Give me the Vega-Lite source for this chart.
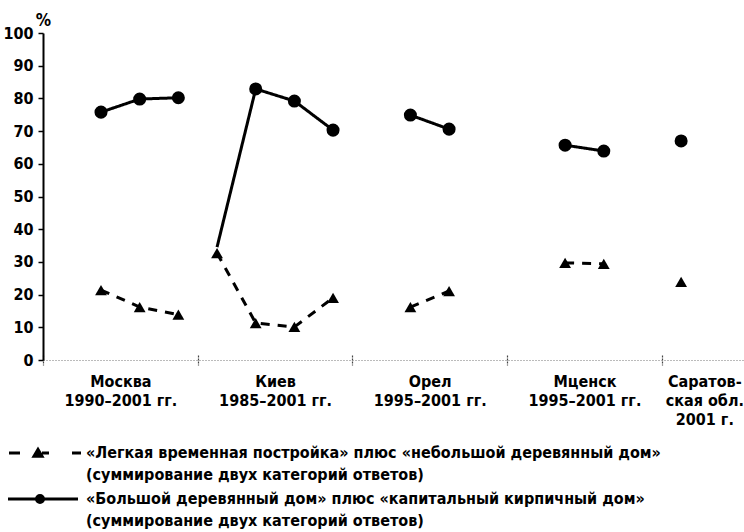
{
  "$schema": "https://vega.github.io/schema/vega-lite/v6.json",
  "autosize": "none",
  "width": 700,
  "height": 327,
  "padding": {"left": 43, "top": 33, "right": 1, "bottom": 172},
  "background": "white",
  "config": {
    "font": "DejaVu Sans Condensed",
    "view": {"stroke": null},
    "style": {"guide-label": {"lineHeight": 22}}
  },
  "data": {
    "values": [
      {"city": "Москва", "slot": 0, "series": "big", "value": 75.8},
      {"city": "Москва", "slot": 1, "series": "big", "value": 79.8},
      {"city": "Москва", "slot": 2, "series": "big", "value": 80.2},
      {"city": "Москва", "slot": 0, "series": "small", "value": 21.4},
      {"city": "Москва", "slot": 1, "series": "small", "value": 16.2},
      {"city": "Москва", "slot": 2, "series": "small", "value": 13.9},
      {"city": "Киев", "slot": 3, "series": "big", "value": 34.5},
      {"city": "Киев", "slot": 4, "series": "big", "value": 82.9},
      {"city": "Киев", "slot": 5, "series": "big", "value": 79.2},
      {"city": "Киев", "slot": 6, "series": "big", "value": 70.3},
      {"city": "Киев", "slot": 3, "series": "small", "value": 32.7},
      {"city": "Киев", "slot": 4, "series": "small", "value": 11.3},
      {"city": "Киев", "slot": 5, "series": "small", "value": 10.1},
      {"city": "Киев", "slot": 6, "series": "small", "value": 19.0},
      {"city": "Орел", "slot": 8, "series": "big", "value": 74.9},
      {"city": "Орел", "slot": 9, "series": "big", "value": 70.6},
      {"city": "Орел", "slot": 8, "series": "small", "value": 16.2},
      {"city": "Орел", "slot": 9, "series": "small", "value": 21.1},
      {"city": "Мценск", "slot": 12, "series": "big", "value": 65.7},
      {"city": "Мценск", "slot": 13, "series": "big", "value": 63.9},
      {"city": "Мценск", "slot": 12, "series": "small", "value": 29.7},
      {"city": "Мценск", "slot": 13, "series": "small", "value": 29.4},
      {"city": "Саратовская обл.", "slot": 15, "series": "big", "value": 67.0},
      {"city": "Саратовская обл.", "slot": 15, "series": "small", "value": 23.9}
    ]
  },
  "encoding": {
    "y": {
      "field": "value", "type": "quantitative",
      "scale": {"domain": [0, 100], "nice": false},
      "axis": {
        "values": [0, 10, 20, 30, 40, 50, 60, 70, 80, 90, 100],
        "labelOverlap": false,
        "grid": false,
        "title": "%", "titleAngle": 0, "titleAlign": "center", "titleBaseline": "middle",
        "titleX": 0, "titleY": -13, "titleFontSize": 17, "titleFontWeight": "bold", "titleColor": "black",
        "domainColor": "black", "domainWidth": 2,
        "tickColor": "black", "tickWidth": 1.5, "tickSize": 5,
        "labelPadding": 5, "labelFontSize": 16, "labelFontWeight": "bold", "labelColor": "black"
      }
    }
  },
  "layer": [
    {
      "mark": {"type": "line", "color": "black", "strokeWidth": 3},
      "encoding": {
        "x": {
          "field": "slot", "type": "quantitative",
          "scale": {"domain": [-1.5, 16.6], "nice": false, "zero": false},
          "axis": {
            "orient": "bottom",
            "values": [-1.5, 2.5, 6.5, 10.5, 14.5],
            "labels": false, "domain": false, "grid": false, "title": null,
            "ticks": true, "tickSize": 10, "offset": -5,
            "tickColor": "#444", "tickWidth": 1.2, "tickDash": [2, 1]
          }
        },
        "detail": [{"field": "city"}, {"field": "series"}],
        "strokeDash": {
          "condition": {"test": "datum.series === 'small'", "value": [9, 8]},
          "value": [1, 0]
        }
      }
    },
    {
      "mark": {"type": "point", "filled": true, "color": "black", "opacity": 1},
      "transform": [{"filter": "!(datum.series === 'big' && datum.slot === 3)"}],
      "encoding": {
        "x": {
          "field": "slot", "type": "quantitative",
          "axis": {
            "orient": "bottom",
            "values": [0.5, 4.5, 8.5, 12.5, 15.6],
            "labelExpr": "datum.value == 0.5 ? ['Москва','1990–2001 гг.'] : datum.value == 4.5 ? ['Киев','1985–2001 гг.'] : datum.value == 8.5 ? ['Орел','1995–2001 гг.'] : datum.value == 12.5 ? ['Мценск','1995–2001 гг.'] : ['Саратов-','ская обл.','2001 г.']",
            "ticks": false, "grid": false, "title": null,
            "domain": true, "domainColor": "#777", "domainDash": [1, 2], "domainWidth": 1,
            "labelPadding": 13, "labelBaseline": "top", "labelAlign": "center",
            "labelLineHeight": 19, "labelOverlap": false, "labelFlush": false, "labelBound": false,
            "labelFontSize": 16, "labelFontWeight": "bold", "labelColor": "black"
          }
        },
        "shape": {
          "condition": {"test": "datum.series === 'big'", "value": "circle"},
          "value": "triangle-up"
        },
        "size": {
          "condition": {"test": "datum.series === 'big'", "value": 170},
          "value": 140
        }
      }
    },
    {
      "mark": {"type": "point", "filled": true, "fill": "black", "stroke": "black", "strokeWidth": 3, "opacity": 1},
      "transform": [{"filter": "false"}],
      "encoding": {
        "x": {"field": "slot", "type": "quantitative", "axis": null},
        "shape": {
          "field": "series", "type": "nominal",
          "scale": {
            "domain": ["small", "big"],
            "range": [
              "M-6.2,1.6H-4M0.4,1.6H1.8M6.4,1.6H8.2M-1.2,2.25L0.4,2.25L-0.4,0.9Z",
              "M-6.4,1.6H7.6M-0.7,1.6A0.7,0.7,0,1,0,0.7,1.6A0.7,0.7,0,1,0,-0.7,1.6Z"
            ]
          },
          "legend": {
            "title": null,
            "orient": "none",
            "legendX": -11,
            "legendY": 404,
            "direction": "vertical",
            "padding": 0,
            "rowPadding": 0,
            "labelOffset": 38,
            "labelLimit": 800,
            "labelFontSize": 16,
            "labelFontWeight": "bold",
            "labelColor": "black",
            "labelBaseline": "top",
            "symbolSize": 100,
            "symbolStrokeWidth": 3,
            "symbolOpacity": 1,
            "labelExpr": "datum.value == 'small' ? ['«Легкая временная постройка» плюс «небольшой деревянный дом»', '(суммирование двух категорий ответов)'] : ['«Большой деревянный дом» плюс «капитальный кирпичный дом»', '(суммирование двух категорий ответов)']"
          }
        }
      }
    }
  ],
  "resolve": {"axis": {"x": "independent"}}
}
